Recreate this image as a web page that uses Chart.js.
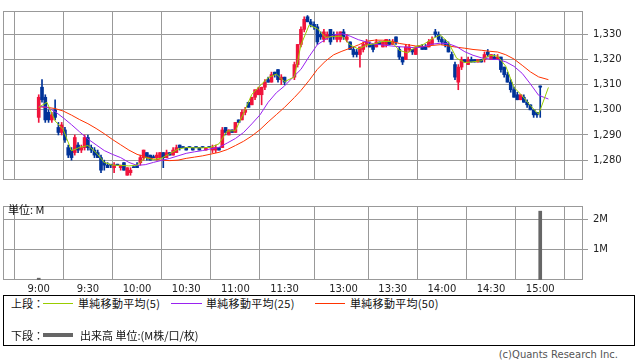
<!DOCTYPE html>
<html>
<head>
<meta charset="utf-8">
<script src="https://cdn.jsdelivr.net/npm/chart.js@4.4.0/dist/chart.umd.min.js"></script>
<style>
  body { margin: 0; width: 638px; height: 362px; position: relative; overflow: hidden; background: #fff; font-family: "DejaVu Sans", sans-serif; }
  canvas { position: absolute; left: 0; }
  #price { top: 0; }
  #volume { top: 195px; }
  .txt { position: absolute; font: 11px "Noto Sans CJK JP", "DejaVu Sans", sans-serif; color: #111; white-space: nowrap; line-height: 14px; }
  .sw { position: absolute; }
  #box { position: absolute; left: 3px; top: 295px; width: 630px; height: 49px; border: 1px solid #000; }
  #copy { position: absolute; right: 20px; top: 349px; font: 10px "DejaVu Sans", sans-serif; color: #555; }
</style>
</head>
<body>
<canvas id="price" width="638" height="191"></canvas>
<canvas id="volume" width="638" height="100"></canvas>
<div class="txt" style="left:8px;top:202px;">単位: M</div>

<div id="box"></div>
<div class="txt" style="left:11px;top:296px;">上段：</div>
<div class="sw" style="left:43px;top:303px;width:30px;height:1px;background:#99cc00;"></div>
<div class="txt" style="left:78px;top:296px;letter-spacing:0.3px;">単純移動平均(5)</div>
<div class="sw" style="left:171px;top:303px;width:31px;height:1px;background:#9a22f0;"></div>
<div class="txt" style="left:206px;top:296px;letter-spacing:0.3px;">単純移動平均(25)</div>
<div class="sw" style="left:315px;top:303px;width:30px;height:1px;background:#ff3300;"></div>
<div class="txt" style="left:350px;top:296px;letter-spacing:0.3px;">単純移動平均(50)</div>
<div class="txt" style="left:11px;top:328px;">下段：</div>
<div class="sw" style="left:43px;top:333px;width:30px;height:4px;background:#666;"></div>
<div class="txt" style="left:80px;top:328px;">出来高 単位:(M株/口/枚)</div>
<div id="copy">(c)Quants Research Inc.</div>

<script>
const tickLabels = ["9:00", "9:30", "10:00", "10:30", "11:00", "11:30", "13:00", "13:30", "14:00", "14:30", "15:00"];
const priceTicks = [1280, 1290, 1300, 1310, 1320, 1330];
const volumeTicks = [1, 2];

// moving averages, sampled every 5 minutes (slot numbers, see slotOf)
const maSlots = [0, 5, 10, 15, 20, 25, 30, 35, 40, 45, 50, 55, 60, 65, 70, 75, 80, 85, 90, 95, 100, 105, 110, 115, 120, 125, 130, 135, 140, 145, 150,
  156, 160, 165, 170, 175, 180, 185, 190, 195, 200, 205, 210, 215, 220, 225, 230, 235, 240, 245, 250, 255, 260, 265, 270, 275, 280, 285, 290, 295, 300, 305, 311];
const ma5 = [1301.0, 1303.0, 1295.6, 1292.1, 1283.7, 1285.1, 1285.8, 1283.0, 1279.1, 1278.0, 1277.9, 1277.7, 1278.0, 1281.0, 1280.2, 1280.8, 1282.6, 1284.4, 1285.0, 1284.9, 1284.9, 1285.1, 1286.5, 1291.6, 1291.7, 1298.7, 1306.1, 1309.6, 1312.8, 1314.2, 1311.2,
  1313.1, 1325.8, 1333.7, 1332.3, 1328.8, 1329.2, 1329.3, 1325.8, 1324.2, 1325.7, 1326.3, 1327.2, 1327.2, 1323.7, 1322.6, 1325.1, 1326.1, 1328.2, 1329.8, 1326.8, 1320.5, 1318.8, 1319.1, 1319.5, 1321.7, 1321.4, 1317.3, 1308.9, 1305.6, 1301.7, 1298.2, 1308.9];
const ma25 = [1301.5, 1301.0, 1299.3, 1296.8, 1294.1, 1291.2, 1288.4, 1286.1, 1283.8, 1282.3, 1281.0, 1279.1, 1277.9, 1278.2, 1279.1, 1279.9, 1280.7, 1281.7, 1282.7, 1283.3, 1283.8, 1284.5, 1285.1, 1286.8, 1288.6, 1291.0, 1294.4, 1298.0, 1303.0, 1306.8, 1309.5,
  1313.5, 1316.1, 1321.2, 1325.9, 1328.0, 1329.8, 1330.3, 1329.3, 1327.9, 1327.0, 1326.1, 1325.8, 1325.4, 1325.1, 1324.9, 1324.7, 1325.1, 1326.1, 1326.5, 1326.3, 1325.1, 1323.1, 1321.7, 1320.7, 1320.2, 1320.0, 1319.1, 1317.3, 1314.5, 1310.3, 1305.8, 1304.3];
const ma50 = [1301.2, 1301.0, 1300.5, 1299.5, 1297.9, 1296.1, 1294.5, 1292.6, 1290.5, 1288.2, 1286.1, 1284.0, 1282.3, 1281.3, 1280.5, 1280.0, 1279.8, 1280.0, 1280.7, 1281.2, 1281.7, 1282.4, 1283.1, 1284.2, 1285.8, 1287.5, 1289.6, 1292.1, 1295.2, 1298.1, 1301.0,
  1304.9, 1307.7, 1311.7, 1316.1, 1319.4, 1321.9, 1323.3, 1324.5, 1325.8, 1327.3, 1327.7, 1327.7, 1327.3, 1326.4, 1325.9, 1325.4, 1325.2, 1325.6, 1325.9, 1325.4, 1324.9, 1324.5, 1324.0, 1323.7, 1323.3, 1323.0, 1321.9, 1320.2, 1317.7, 1315.1, 1313.1, 1312.0];

// 2-minute candles from 9:00; entries 76 and 77 fall in the lunch break
const open = [1297, 1309, 1305, 1299, 1296, 1300, 1293, 1291, 1292, 1285, 1284, 1283, 1286, 1284, 1285, 1289, 1285, 1284, 1283, 1281,
  1279, 1278, 1278, 1277, 1278, 1277, 1279, 1274, 1275, 1277, 1278, 1279, 1281, 1283, 1282, 1281, 1281, 1281, 1283, 1281,
  1283, 1282, 1283, 1286, 1285, 1285, 1285, 1285, 1285, 1285, 1285, 1284, 1285, 1284, 1284, 1285, 1285, 1293, 1290, 1292,
  1291, 1296, 1296, 1299, 1303, 1302, 1305, 1306, 1306, 1309, 1312, 1311, 1315, 1316, 1312, 1313, null, null, 1313, 1318,
  1326, 1332, 1337, 1335, 1334, 1333, 1330, 1328, 1329, 1332, 1330, 1328, 1328, 1331, 1328, 1327, 1324, 1323, 1322, 1324,
  1326, 1326, 1326, 1325, 1327, 1325, 1326, 1327, 1326, 1329, 1324, 1321, 1320, 1324, 1324, 1322, 1325, 1325, 1325, 1325,
  1326, 1331, 1330, 1328, 1327, 1326, 1322, 1318, 1311, 1317, 1320, 1318, 1320, 1320, 1319, 1320, 1320, 1323, 1320, 1321,
  1320, 1321, 1317, 1314, 1311, 1308, 1306, 1304, 1305, 1303, 1302, 1300, 1299, 1309.5];
const high = [1306, 1312, 1306, 1300, 1299, 1304, 1295, 1295, 1293, 1286, 1285, 1290, 1287, 1286, 1290, 1290, 1286, 1285, 1284, 1282,
  1280, 1279, 1278, 1279, 1278, 1278, 1279, 1277, 1277, 1277, 1279, 1282, 1284, 1283, 1282, 1282, 1283, 1283, 1283, 1284,
  1283, 1285, 1286, 1286, 1285, 1285, 1285, 1285, 1285, 1285, 1285, 1285, 1285, 1286, 1286, 1285, 1293, 1293, 1292, 1292,
  1295, 1296, 1300, 1301, 1303, 1305, 1308, 1309, 1309, 1312, 1313, 1315, 1315, 1316, 1314, 1313, null, null, 1319, 1326,
  1333, 1337, 1337.5, 1336, 1335, 1334, 1331, 1332, 1331, 1332, 1331, 1331, 1331, 1332, 1330, 1327, 1325, 1324, 1325, 1327,
  1328, 1327, 1326, 1328, 1327, 1327, 1328, 1328, 1328, 1329, 1325, 1321, 1326, 1326, 1324, 1325, 1325, 1326, 1326, 1328,
  1329, 1332, 1331, 1329, 1328, 1327, 1323, 1319, 1318, 1321, 1320, 1321, 1321, 1320, 1320, 1320, 1323, 1324, 1322, 1322,
  1322, 1321, 1317, 1315, 1312, 1309, 1307, 1306, 1306, 1304, 1302, 1300, 1299, 1309.5];
const low = [1295, 1303, 1295, 1295, 1295, 1296, 1290, 1290, 1287, 1281, 1280, 1282, 1283, 1283, 1284, 1284, 1283, 1281, 1281, 1275,
  1276, 1277, 1277, 1275, 1278, 1276, 1276, 1274, 1274, 1277, 1277, 1278, 1280, 1280, 1280, 1281, 1280, 1281, 1277, 1281,
  1282, 1282, 1283, 1284, 1285, 1284, 1285, 1284, 1285, 1284, 1285, 1284, 1285, 1283, 1283, 1284, 1285, 1290, 1290, 1291,
  1291, 1295, 1296, 1298, 1301, 1302, 1304, 1306, 1302, 1308, 1311, 1311, 1313, 1311, 1310, 1310, null, null, 1312, 1317,
  1325, 1331, 1335, 1333, 1332, 1326, 1328, 1327, 1328, 1326, 1328, 1327, 1327, 1328, 1327, 1324, 1321, 1321, 1317, 1323,
  1325, 1325, 1323, 1325, 1326, 1325, 1325, 1326, 1326, 1326, 1320, 1318, 1320, 1323, 1322, 1322, 1325, 1324, 1324, 1325,
  1326, 1329, 1327, 1326, 1325, 1323, 1320, 1312, 1308, 1316, 1319, 1318, 1319, 1319, 1319, 1319, 1319, 1321, 1320, 1320,
  1320, 1315, 1313, 1311, 1307, 1305, 1304, 1304, 1303, 1301, 1300, 1297, 1297, 1297];
const close = [1305, 1304, 1296, 1296, 1298, 1297, 1291, 1294, 1288, 1282, 1281, 1289, 1284, 1285, 1289, 1285, 1284, 1282, 1281, 1276,
  1278, 1277, 1278, 1278, 1278, 1278, 1276, 1277, 1276, 1277, 1277, 1281, 1284, 1281, 1280, 1281, 1282, 1283, 1281, 1283,
  1282, 1284, 1285, 1285, 1285, 1284, 1285, 1284, 1285, 1284, 1285, 1285, 1285, 1285, 1285, 1284, 1292, 1291, 1292, 1291,
  1295, 1295, 1299, 1300, 1301, 1305, 1308, 1308, 1309, 1311, 1311, 1314, 1314, 1312, 1313, 1311, null, null, 1318, 1326,
  1332, 1336, 1335, 1334, 1333, 1327, 1329, 1331, 1330, 1327, 1329, 1330, 1331, 1329, 1329, 1324, 1322, 1322, 1325, 1326,
  1327, 1325, 1324, 1327, 1326, 1327, 1328, 1326, 1327, 1327, 1321, 1319, 1325, 1325, 1323, 1325, 1325, 1324, 1324, 1327,
  1328, 1330, 1328, 1327, 1326, 1323, 1320, 1313, 1317, 1320, 1319, 1320, 1319, 1319, 1320, 1319, 1322, 1322, 1322, 1320,
  1321, 1316, 1314, 1311, 1308, 1305, 1304, 1306, 1303, 1302, 1300, 1298, 1298, 1309];

const volumeTimes = ["9:00", "15:00"];
const volumeValues = [0.06, 2.26];

const UP = "#f0143c";
const DOWN = "#003399";
const GRID = "#999999";

// x position in minutes after 9:00, the lunch break (11:30-12:30) squeezed to 6 minutes
function slotOf(t) {
  const [h, m] = t.split(":").map(Number);
  const mins = (h - 9) * 60 + m;
  return mins >= 210 ? mins - 54 : mins;
}

Chart.defaults.font.family = "'DejaVu Sans', sans-serif";
Chart.defaults.font.size = 10;
Chart.defaults.color = "#222";

const frame = {
  id: "frame",
  beforeDatasetsDraw(chart) {
    const { ctx, chartArea: a } = chart;
    ctx.save();
    ctx.strokeStyle = GRID;
    ctx.lineWidth = 1;
    ctx.strokeRect(Math.round(a.left) + 0.5, Math.round(a.top) + 0.5, Math.round(a.right - a.left) - 1, Math.round(a.bottom - a.top) - 1);
    ctx.restore();
  }
};

const candleBody = [], candleWick = [], candleColor = [];
open.forEach((o, i) => {
  if (o == null) return;
  candleBody.push({ x: i * 2, y: [o, close[i]] });
  candleWick.push({ x: i * 2, y: [low[i], high[i]] });
  candleColor.push(close[i] > o ? UP : DOWN);
});

const maLine = (data, color) => ({
  type: "line",
  data: maSlots.map((s, i) => ({ x: s, y: data[i] })),
  borderColor: color,
  borderWidth: 1,
  pointRadius: 0,
  tension: 0
});

const xTicks = (axis) => { axis.ticks = tickLabels.map(t => ({ value: slotOf(t) })); };
const xRange = { min: -21.8, max: 332.1 };

new Chart(document.getElementById("price"), {
  type: "line",
  data: {
    datasets: [
      maLine(ma5, "#99cc00"),
      maLine(ma25, "#9a22f0"),
      maLine(ma50, "#ff3300"),
      { type: "bar", data: candleBody, backgroundColor: candleColor, barThickness: 3, minBarLength: 1, grouped: false, borderWidth: 0 },
      { type: "bar", data: candleWick, backgroundColor: candleColor, barThickness: 1, minBarLength: 1, grouped: false, borderWidth: 0 }
    ]
  },
  options: {
    responsive: false,
    animation: false,
    events: [],
    layout: { padding: { left: 3, top: 0, right: 0, bottom: 0 } },
    plugins: { legend: { display: false }, tooltip: { enabled: false } },
    scales: {
      x: {
        type: "linear", ...xRange, offset: false,
        afterBuildTicks: xTicks,
        afterFit: (s) => { s.height = 0; },
        ticks: { display: false },
        grid: { color: GRID, drawTicks: false },
        border: { display: false }
      },
      y: {
        position: "right", min: 1272.1, max: 1339.3,
        afterBuildTicks: (axis) => { axis.ticks = priceTicks.map(v => ({ value: v })); },
        afterFit: (s) => { s.width = 55; },
        ticks: { padding: 5, callback: (v) => v.toLocaleString("en-US") },
        grid: { color: GRID, tickLength: 5 },
        border: { display: false }
      }
    }
  },
  plugins: [frame]
});

new Chart(document.getElementById("volume"), {
  type: "bar",
  data: {
    datasets: [{
      data: volumeTimes.map((t, i) => ({ x: slotOf(t), y: volumeValues[i] })),
      backgroundColor: "#666666",
      barThickness: 3,
      borderWidth: 0
    }]
  },
  options: {
    responsive: false,
    animation: false,
    events: [],
    layout: { padding: { left: 3, top: 6, right: 0, bottom: 0 } },
    plugins: { legend: { display: false }, tooltip: { enabled: false } },
    scales: {
      x: {
        type: "linear", ...xRange, offset: false,
        afterBuildTicks: xTicks,
        afterFit: (s) => { s.height = 15; },
        ticks: { padding: 3, autoSkip: false, maxRotation: 0, callback: (v, i) => tickLabels[i] },
        grid: { color: GRID, drawTicks: false },
        border: { display: false }
      },
      y: {
        position: "right", min: 0, max: 2.43,
        afterBuildTicks: (axis) => { axis.ticks = volumeTicks.map(v => ({ value: v })); },
        afterFit: (s) => { s.width = 55; },
        ticks: { padding: 5, callback: (v) => v + "M" },
        grid: { color: GRID, tickLength: 5 },
        border: { display: false }
      }
    }
  },
  plugins: [frame]
});
</script>
</body>
</html>
